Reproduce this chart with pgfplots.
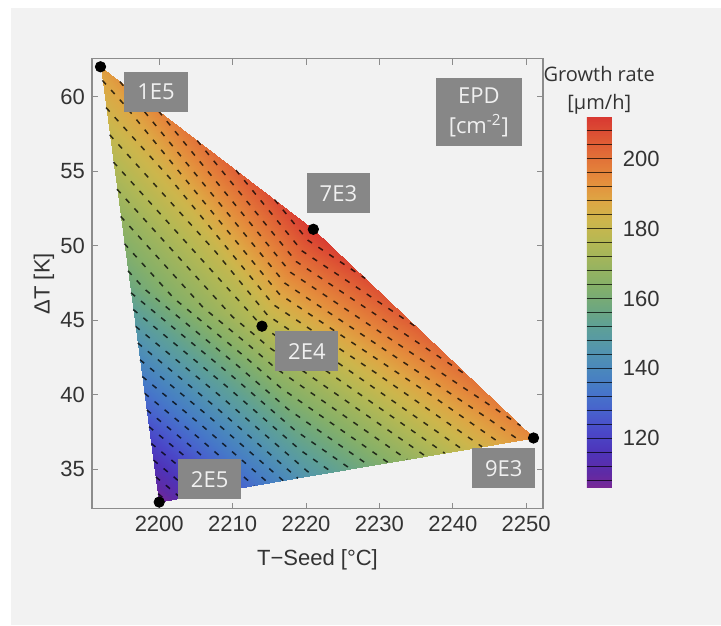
\documentclass[border=0pt]{standalone}
\usepackage{fontspec}
\setmainfont{Liberation Sans}
\newfontfamily\os{Open Sans}
\usepackage{pgfplots}
\pgfplotsset{compat=1.18}
\usepackage{pgfplotstable}

\definecolor{bgray}{HTML}{F2F2F2}
\definecolor{axisgray}{HTML}{8C8C8C}
\definecolor{txt}{HTML}{333333}
\definecolor{boxgray}{HTML}{878787}

\pgfplotsset{colormap={growth}{
 rgb255(0pt)=(120,40,150) rgb255(4pt)=(95,42,165) rgb255(10pt)=(78,52,185)
 rgb255(16pt)=(74,72,200) rgb255(22pt)=(72,98,205) rgb255(28pt)=(70,120,200)
 rgb255(34pt)=(74,136,188) rgb255(40pt)=(84,150,172) rgb255(46pt)=(94,160,150)
 rgb255(52pt)=(112,168,124) rgb255(58pt)=(134,176,104) rgb255(64pt)=(156,180,94)
 rgb255(70pt)=(180,184,84) rgb255(76pt)=(204,182,76) rgb255(82pt)=(222,166,68)
 rgb255(88pt)=(228,140,60) rgb255(94pt)=(226,114,56) rgb255(100pt)=(222,86,52)
 rgb255(106pt)=(216,56,50)}}

% growth rate field: piecewise linear over 6 triangles
\pgfplotstableread{
x y g
2192 62 190
2221 51.1 212
2214 44.6 176
2221 51.1 212
2251 37.1 195
2214 44.6 176
2251 37.1 195
2220.4 34.52 147
2214 44.6 176
2220.4 34.52 147
2200 32.8 106
2214 44.6 176
2200 32.8 106
2196 47.4 158
2214 44.6 176
2196 47.4 158
2192 62 190
2214 44.6 176
}\field

\pgfplotstableread{
x y
2192 62
2221 51.1
2214 44.6
2200 32.8
2251 37.1
}\pts

\begin{document}
\begin{tikzpicture}
\fill[white] (0pt,0pt) rectangle (360.5pt,312.5pt);
\fill[bgray] (5.5pt,0pt) rectangle (360.5pt,308.5pt);
\useasboundingbox (0pt,0pt) rectangle (360.5pt,312.5pt);
\begin{axis}[
  at={(46pt,58.1pt)}, anchor=south west,
  scale only axis, width=225.5pt, height=225.1pt,
  xmin=2190.84, xmax=2252.29, ymin=32.35, ymax=62.55,
  xtick={2200,2210,...,2250}, ytick={35,40,...,60},
  scaled ticks=false,
  tick align=inside, major tick length=3pt,
  tick style={axisgray, line width=0.5pt},
  axis line style={axisgray, line width=0.6pt},
  xticklabel style={font=\fontsize{11}{13}\selectfont, text=txt},
  yticklabel style={font=\fontsize{11}{13}\selectfont, text=txt},
  /pgf/number format/assume math mode=true,
  /pgf/number format/1000 sep={},
  xlabel={T−Seed [°C]},
  ylabel={ΔT [K]},
  label style={font=\fontsize{11}{13}\selectfont, text=txt},
  xlabel style={at={(axis description cs:0.5,-0.1137)}, anchor=center},
  ylabel style={at={(axis description cs:-0.1064,0.5)}, anchor=center},
  colormap name=growth, point meta min=106, point meta max=212,
  colorbar,
  colorbar style={
    at={(parent axis.north east)}, anchor=north west,
    xshift=13.35pt, yshift=-29.05pt,
    scale only axis, width=12.5pt, height=185.3pt,
    axis line style={draw=none},
    ytick={120,140,...,200},
    major tick length=0pt,
    yticklabel style={font=\fontsize{11}{13}\selectfont, text=txt, xshift=2pt},
    /pgf/number format/assume math mode=true,
    extra y ticks={108,112,...,208},
    extra y tick labels={},
    extra y tick style={grid=major, major grid style={black, opacity=0.7, line width=0.65pt}},
    axis on top,
    title={Growth rate\\{}[µm/h]},
    title style={align=center, font=\os\fontsize{10}{14}\selectfont, text=txt,
      at={(0.5,1)}, anchor=south, yshift=-8.5pt},
  },
]
\addplot[patch, shader=interp, point meta=\thisrow{g}] table[x=x,y=y] {\field};

\addplot[black, opacity=0.75, line width=0.75pt, dash pattern=on 2.7pt off 3.8pt,
  unbounded coords=jump] coordinates {
(2199.846,33.362) (2200.4,33.137) (2200.995,32.884) (nan,nan)
(2199.538,34.485) (2201.2,33.811) (2202.985,33.052) (nan,nan)
(2199.231,35.608) (2202.0,34.486) (2204.976,33.220) (nan,nan)
(2198.923,36.731) (2202.8,35.16) (2206.966,33.387) (nan,nan)
(2198.615,37.854) (2203.6,35.834) (2208.956,33.555) (nan,nan)
(2198.308,38.977) (2204.4,36.509) (2210.946,33.723) (nan,nan)
(2198.0,40.1) (2205.2,37.183) (2212.937,33.891) (nan,nan)
(2197.692,41.223) (2206.0,37.857) (2214.927,34.059) (nan,nan)
(2197.385,42.346) (2206.8,38.531) (2216.917,34.226) (nan,nan)
(2197.077,43.469) (2207.6,39.206) (2218.907,34.394) (nan,nan)
(2196.769,44.592) (2208.4,39.88) (2220.179,34.868) (2221.038,34.574) (nan,nan)
(2196.462,45.715) (2209.2,40.554) (2219.297,36.258) (2223.588,34.789) (nan,nan)
(2196.154,46.838) (2210.0,41.229) (2218.414,37.648) (2226.138,35.004) (nan,nan)
(2195.75,48.3125) (2198.0,47.089) (2210.8,41.903) (2217.531,39.039) (2228.688,35.219) (nan,nan)
(2195.25,50.1375) (2202.0,46.467) (2211.6,42.577) (2216.648,40.429) (2231.238,35.434) (nan,nan)
(2194.75,51.9625) (2206.0,45.844) (2212.4,43.251) (2215.766,41.819) (2233.788,35.649) (nan,nan)
(2194.25,53.7875) (2210.0,45.222) (2213.2,43.926) (2214.883,43.210) (2236.338,35.864) (nan,nan)
(2193.75,55.6125) (2214,44.6) (2238.888,36.079) (nan,nan)
(2193.25,57.4375) (2207.714,49.571) (2214.778,45.322) (2221.789,43.021) (2241.438,36.294) (nan,nan)
(2192.75,59.2625) (2201.429,54.543) (2215.556,46.044) (2229.579,41.442) (2243.988,36.509) (nan,nan)
(2192.25,61.0875) (2195.143,59.514) (2216.333,46.767) (2237.368,39.863) (2246.538,36.724) (nan,nan)
(2194.636,61.009) (2217.111,47.489) (2245.158,38.284) (2249.088,36.939) (nan,nan)
(2199.909,59.027) (2217.889,48.211) (2249.235,37.924) (nan,nan)
(2205.182,57.045) (2218.667,48.933) (2242.176,41.218) (nan,nan)
(2210.455,55.064) (2219.444,49.656) (2235.118,44.512) (nan,nan)
(2215.727,53.082) (2220.222,50.378) (2228.059,47.806)
};

\addplot[only marks, mark=*, mark size=2.6pt, black] table[x=x,y=y] {\pts};

\tikzset{lab/.style={fill=boxgray, text=white!94!black, font=\os\fontsize{11}{13}\selectfont,
  minimum width=31.5pt, minimum height=20pt, inner sep=0pt}}
\node[lab] at (axis cs:2199.56,60.34) {1E5};
\node[lab] at (axis cs:2224.41,53.52) {7E3};
\node[lab] at (axis cs:2220.12,42.92) {2E4};
\node[lab] at (axis cs:2206.87,34.33) {2E5};
\node[lab] at (axis cs:2246.94,35.07) {9E3};
\node[lab, minimum width=43pt, minimum height=34pt, align=center, font=\os\fontsize{11}{15}\selectfont]
  at (axis cs:2243.55,58.97) {EPD\\{}[cm\textsuperscript{-2}]};
\end{axis}
\end{tikzpicture}
\end{document}
